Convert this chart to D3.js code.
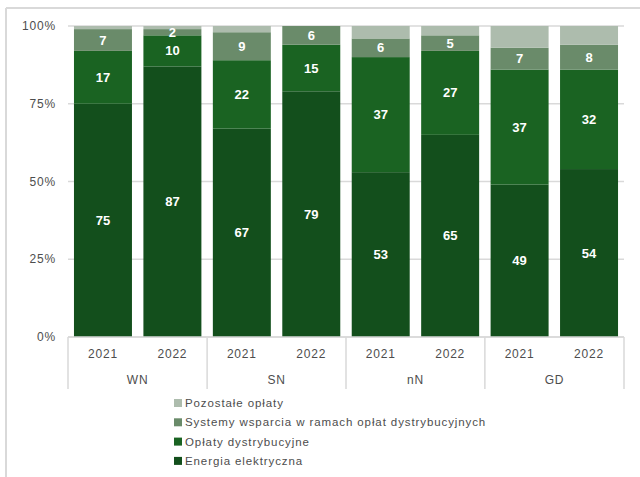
<!DOCTYPE html>
<html>
<head>
<meta charset="utf-8">
<script src="https://cdn.jsdelivr.net/npm/d3@7"></script>
<style>
  body { margin: 0; background: #fff; }
  svg { display: block; font-family: "Liberation Sans", Arial, sans-serif; }
</style>
</head>
<body>
<div id="chart"></div>
<script>
// categories
const groups = ["WN", "SN", "nN", "GD"];
const years = ["2021", "2022"];

// series values (% share), one per bar, in order WN21, WN22, SN21, ...
const energia = [75, 87, 67, 79, 53, 65, 49, 54];
const oplaty = [17, 10, 22, 15, 37, 27, 37, 32];
const systemy = [7, 2, 9, 6, 6, 5, 7, 8];
const pozostale = [1, 1, 2, 0, 4, 3, 7, 6];

const yTicks = [0, 25, 50, 75, 100];

const seriesNames = ["Energia elektryczna", "Opłaty dystrybucyjne",
  "Systemy wsparcia w ramach opłat dystrybucyjnych", "Pozostałe opłaty"];
const seriesKeys = ["energia", "oplaty", "systemy", "pozostale"];
const colors = ["#134f1c", "#1a6322", "#6a8b6a", "#adbcad"];

// build rows for d3.stack
const rows = [];
groups.forEach((g, gi) => {
  years.forEach((yr, yi) => {
    const i = gi * years.length + yi;
    rows.push({
      key: g + "|" + yr, group: g, year: yr,
      energia: energia[i], oplaty: oplaty[i], systemy: systemy[i], pozostale: pozostale[i]
    });
  });
});

const width = 640, height = 477;
const textGray = "#4d4d4d";
const svg = d3.select("#chart").append("svg")
  .attr("width", width).attr("height", height);

// outer frame (top and left edges only visible)
svg.append("line").attr("x1", 6).attr("x2", width).attr("y1", 8).attr("y2", 8)
  .attr("stroke", "#d9d9d9").attr("stroke-width", 2);
svg.append("line").attr("x1", 6).attr("x2", 6).attr("y1", 8).attr("y2", height)
  .attr("stroke", "#d9d9d9").attr("stroke-width", 2);

const x = d3.scaleBand()
  .domain(rows.map(d => d.key))
  .range([68, 624])
  .paddingInner(0.165)
  .paddingOuter(0.086);

const y = d3.scaleLinear().domain([0, 100]).range([337, 26]);

// gridlines
svg.append("g").selectAll("line")
  .data(yTicks)
  .join("line")
  .attr("x1", 68).attr("x2", 624)
  .attr("y1", d => y(d)).attr("y2", d => y(d))
  .attr("stroke", "#d9d9d9").attr("stroke-width", 1.5);

// y tick labels
svg.append("g").selectAll("text")
  .data(yTicks)
  .join("text")
  .attr("x", 56).attr("y", d => y(d))
  .attr("dy", "0.35em")
  .attr("text-anchor", "end")
  .attr("font-size", 12)
  .attr("letter-spacing", 0.8)
  .attr("fill", textGray)
  .text(d => d + "%");

const stack = d3.stack().keys(seriesKeys);
const stacked = stack(rows);

// bars
const layer = svg.append("g").selectAll("g")
  .data(stacked)
  .join("g")
  .attr("fill", (d, i) => colors[i]);

layer.selectAll("rect")
  .data(d => d)
  .join("rect")
  .attr("x", d => x(d.data.key))
  .attr("width", x.bandwidth())
  .attr("y", d => y(d[1]))
  .attr("height", d => y(d[0]) - y(d[1]));

// value labels (not for "Pozostałe")
svg.append("g").selectAll("g")
  .data(stacked.slice(0, 3))
  .join("g")
  .selectAll("text")
  .data(d => d.map(v => ({ v: v, val: v[1] - v[0] })))
  .join("text")
  .attr("x", d => x(d.v.data.key) + x.bandwidth() / 2)
  .attr("y", d => (y(d.v[0]) + y(d.v[1])) / 2)
  .attr("dy", "0.35em")
  .attr("text-anchor", "middle")
  .attr("font-size", 13)
  .attr("font-weight", "bold")
  .attr("fill", "#fff")
  .text(d => d.val);

// x axis: baseline, group separators, labels
const step = x.step();
const half = step * x.paddingInner() / 2;
svg.append("line")
  .attr("x1", 68).attr("x2", 624).attr("y1", 337).attr("y2", 337)
  .attr("stroke", "#d9d9d9").attr("stroke-width", 1.5);

const bounds = [68];
groups.forEach((g, gi) => {
  if (gi < groups.length - 1) {
    const lastKey = g + "|" + years[years.length - 1];
    bounds.push(x(lastKey) + x.bandwidth() + half);
  }
});
bounds.push(624);

svg.append("g").selectAll("line")
  .data(bounds)
  .join("line")
  .attr("x1", d => d).attr("x2", d => d)
  .attr("y1", 337).attr("y2", 389)
  .attr("stroke", "#d9d9d9").attr("stroke-width", 1.5);

svg.append("g").selectAll("text")
  .data(rows)
  .join("text")
  .attr("x", d => x(d.key) + x.bandwidth() / 2)
  .attr("y", 354)
  .attr("dy", "0.35em")
  .attr("text-anchor", "middle")
  .attr("font-size", 12)
  .attr("letter-spacing", 0.8)
  .attr("fill", textGray)
  .text(d => d.year);

svg.append("g").selectAll("text")
  .data(groups)
  .join("text")
  .attr("x", (d, i) => (bounds[i] + bounds[i + 1]) / 2)
  .attr("y", 380)
  .attr("dy", "0.35em")
  .attr("text-anchor", "middle")
  .attr("font-size", 12)
  .attr("letter-spacing", 0.8)
  .attr("fill", textGray)
  .text(d => d);

// legend (reverse order, top = Pozostałe)
const legendOrder = [3, 2, 1, 0];
const legend = svg.append("g").selectAll("g")
  .data(legendOrder)
  .join("g")
  .attr("transform", (d, i) => "translate(174," + (403 + i * 19.3) + ")");

legend.append("rect")
  .attr("x", 0).attr("y", -4)
  .attr("width", 8).attr("height", 8)
  .attr("fill", d => colors[d]);

legend.append("text")
  .attr("x", 11).attr("y", 0)
  .attr("dy", "0.35em")
  .attr("font-size", 11.5)
  .attr("letter-spacing", 0.9)
  .attr("fill", textGray)
  .text(d => seriesNames[d]);
</script>
</body>
</html>
